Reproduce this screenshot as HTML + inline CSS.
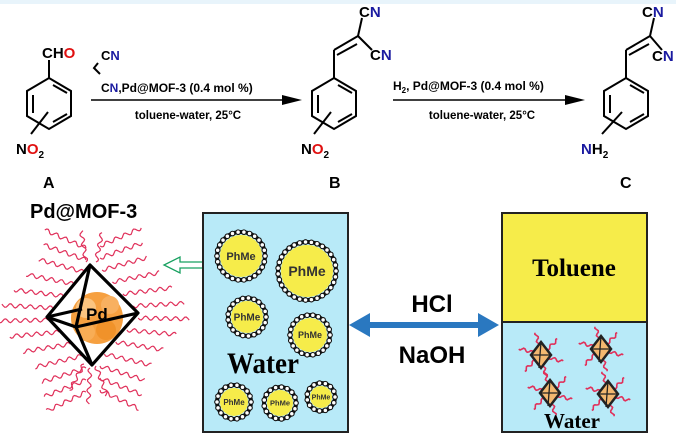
<!DOCTYPE html>
<html><head><meta charset="utf-8"><style>
body{margin:0;background:#fff;}
svg{display:block;font-family:"Liberation Sans",Arial,sans-serif;}
.b{stroke:#000;stroke-width:2;fill:none}
</style></head><body>
<svg id="s" width="676" height="435" viewBox="0 0 676 435" xmlns="http://www.w3.org/2000/svg">
<rect x="0" y="0" width="676" height="4" fill="#e8f4fb"/>
<!-- A -->
<g class="b">
<polygon points="49,78 71,91 71,116 49,129 27,116 27,91"/>
<line x1="33" y1="95" x2="33" y2="113"/><line x1="53" y1="85" x2="67" y2="93"/><line x1="53" y1="122" x2="67" y2="114"/>
<line x1="49" y1="78" x2="49" y2="60"/>
<line x1="31" y1="134" x2="48" y2="112"/>
</g>
<text x="42" y="58" font-size="15" font-weight="bold">CH<tspan fill="#e01010">O</tspan></text>
<text x="16" y="154" font-size="15" font-weight="bold">N<tspan fill="#e01010">O</tspan><tspan font-size="10" dy="4">2</tspan></text>
<text x="43" y="188" font-size="16" font-weight="bold">A</text>
<!-- arrow 1 -->
<path class="b" d="M98,63 L94,68 L100,74"/>
<text x="101" y="60" font-size="13" font-weight="bold">C<tspan fill="#1a1aa0">N</tspan></text>
<text x="101" y="92" font-size="12" font-weight="bold">C<tspan fill="#1a1aa0">N</tspan>,Pd@MOF-3 (0.4 mol %)</text>
<line x1="91" y1="100" x2="285" y2="100" stroke="#000" stroke-width="1.5"/>
<polygon points="282,95 302,100 282,105" fill="#000"/>
<text x="188" y="119" font-size="11.5" font-weight="bold" text-anchor="middle">toluene-water, 25°C</text>
<!-- B -->
<g class="b">
<polygon points="334,78 356,91 356,116 334,129 312,116 312,91"/>
<line x1="318" y1="95" x2="318" y2="113"/><line x1="338" y1="85" x2="352" y2="93"/><line x1="338" y1="122" x2="352" y2="114"/>
<line x1="334" y1="78" x2="334" y2="50"/>
<line x1="334" y1="50" x2="358" y2="36"/><line x1="337" y1="55" x2="357" y2="44"/>
<line x1="358" y1="36" x2="362" y2="18"/><line x1="358" y1="36" x2="372" y2="50"/>
<line x1="314" y1="134" x2="331" y2="112"/>
</g>
<text x="359" y="17" font-size="15" font-weight="bold">C<tspan fill="#1a1aa0">N</tspan></text>
<text x="370" y="60" font-size="15" font-weight="bold">C<tspan fill="#1a1aa0">N</tspan></text>
<text x="301" y="154" font-size="15" font-weight="bold">N<tspan fill="#e01010">O</tspan><tspan font-size="10" dy="4">2</tspan></text>
<text x="329" y="188" font-size="16" font-weight="bold">B</text>
<!-- arrow 2 -->
<text x="393" y="90" font-size="12" font-weight="bold">H<tspan font-size="8" dy="3">2</tspan><tspan dy="-3">, Pd@MOF-3 (0.4 mol %)</tspan></text>
<line x1="393" y1="100" x2="568" y2="100" stroke="#000" stroke-width="1.5"/>
<polygon points="565,95 585,100 565,105" fill="#000"/>
<text x="482" y="119" font-size="11.5" font-weight="bold" text-anchor="middle">toluene-water, 25°C</text>
<!-- C -->
<g class="b">
<polygon points="626,78 648,91 648,116 626,129 604,116 604,91"/>
<line x1="610" y1="95" x2="610" y2="113"/><line x1="630" y1="85" x2="644" y2="93"/><line x1="630" y1="122" x2="644" y2="114"/>
<line x1="626" y1="78" x2="626" y2="50"/>
<line x1="626" y1="50" x2="650" y2="36"/><line x1="629" y1="55" x2="649" y2="44"/>
<line x1="650" y1="36" x2="654" y2="18"/><line x1="650" y1="36" x2="662" y2="50"/>
<line x1="602" y1="134" x2="622" y2="112"/>
</g>
<text x="642" y="17" font-size="15" font-weight="bold">C<tspan fill="#1a1aa0">N</tspan></text>
<text x="652" y="61" font-size="15" font-weight="bold">C<tspan fill="#1a1aa0">N</tspan></text>
<text x="581" y="154" font-size="15" font-weight="bold"><tspan fill="#1a1aa0">N</tspan>H<tspan font-size="10" dy="4">2</tspan></text>
<text x="620" y="188" font-size="16" font-weight="bold">C</text>
<!-- Pd@MOF-3 -->
<text x="30" y="218" font-size="20" font-weight="bold">Pd@MOF-3</text>
<g id="waves" stroke="#e0305a" stroke-width="1.2" fill="none"></g>
<circle cx="97" cy="318" r="26" fill="#f6a040"/>
<circle cx="86" cy="308" r="10" fill="#fbc480"/><circle cx="106" cy="330" r="10" fill="#f0922a"/><circle cx="86" cy="332" r="9" fill="#f8ad55"/><circle cx="110" cy="305" r="9" fill="#f8b060"/>
<g style="stroke:#000;stroke-width:3.2;fill:none;stroke-linejoin:round">
<polygon points="90,265 47,317 92,365 138,313"/>
<line x1="90" y1="265" x2="76" y2="327"/><line x1="47" y1="317" x2="76" y2="327"/><line x1="76" y1="327" x2="138" y2="313"/><line x1="76" y1="327" x2="92" y2="365"/>
<line x1="47" y1="317" x2="82" y2="309"/>
</g>
<text x="86" y="320" font-size="17" font-weight="bold">Pd</text>
<!-- green arrow -->
<path d="M212,262 L180,262 L180,257 L164,265 L180,273 L180,268 L212,268" fill="#fff" stroke="#18a060" stroke-width="1.3"/>
<!-- middle box -->
<rect x="203" y="213" width="145" height="219" fill="#b8eaf8" stroke="#222" stroke-width="2"/>
<g id="bub"></g>
<text x="227" y="373" font-family="Liberation Serif,serif" font-size="30" font-weight="bold" textLength="72" lengthAdjust="spacingAndGlyphs">Water</text>
<!-- double arrow -->
<line x1="360" y1="325" x2="488" y2="325" stroke="#2a78c0" stroke-width="6"/>
<polygon points="349,325 370,313 370,337" fill="#2a78c0"/>
<polygon points="499,325 478,313 478,337" fill="#2a78c0"/>
<text x="432" y="312" font-size="24" font-weight="bold" text-anchor="middle">HCl</text>
<text x="432" y="363" font-size="24" font-weight="bold" text-anchor="middle">NaOH</text>
<!-- right box -->
<rect x="502" y="213" width="145" height="109" fill="#f6ec4a" stroke="#222" stroke-width="2"/>
<rect x="502" y="322" width="145" height="110" fill="#b8eaf8" stroke="#222" stroke-width="2"/>
<text x="574" y="276" font-family="Liberation Serif,serif" font-size="25" font-weight="bold" text-anchor="middle">Toluene</text>
<g id="mini"></g>
<text x="572" y="428" font-family="Liberation Serif,serif" font-size="21" font-weight="bold" text-anchor="middle">Water</text>
</svg>
<script>
var NS="http://www.w3.org/2000/svg";
function el(p,t,a){var e=document.createElementNS(NS,t);for(var k in a)e.setAttribute(k,a[k]);p.appendChild(e);return e;}
function wave(g,x,y,ang,len,amp,w){var ux=Math.cos(ang),uy=Math.sin(ang),d="";for(var t=0;t<=len;t+=1.5){var o=amp*Math.sin(t/w*2*Math.PI);var px=x+ux*t-uy*o,py=y+uy*t+ux*o;d+=(t?"L":"M")+px.toFixed(1)+","+py.toFixed(1);}el(g,"path",{d:d});}
var wg=document.getElementById("waves");
for(var y=248;y<=392;y+=12){
  var w=y<317?(y-265)/52*45:(365-y)/48*45; if(w<4)w=4;
  var tilt=(y-317)/75*0.45;
  var len=52-Math.abs(y-317)*0.1;
  wave(wg,92-w-2,y,Math.PI-tilt,len,2,10);
  wave(wg,94+w+2,y-2,tilt,len,2,10);
}
wave(wg,86,262,-Math.PI/2-0.15,32,2,10);
wave(wg,96,262,-Math.PI/2+0.2,30,2,10);
wave(wg,90,368,Math.PI/2+0.05,36,2,10);
wave(wg,96,366,Math.PI/2-0.35,32,2,10);
wave(wg,84,364,Math.PI/2+0.5,30,2,10);
var bg=document.getElementById("bub");
[[241,256,27,11],[307,271,32,14],[247,317,22,10],[310,335,23,9],[234,402,20,8],[280,403,19,7.5],[321,397,17,7]].forEach(function(b){
var R=b[2]-3;
el(bg,"circle",{cx:b[0],cy:b[1],r:R,fill:"none",stroke:"#111","stroke-width":4});
var n=Math.round(2*Math.PI*R/5.8);
for(var k=0;k<n;k++){var a=k/n*2*Math.PI;el(bg,"circle",{cx:b[0]+Math.cos(a)*R,cy:b[1]+Math.sin(a)*R,r:2.3,fill:"#fff",stroke:"#111","stroke-width":1.1});}
el(bg,"circle",{cx:b[0],cy:b[1],r:R-3,fill:"#f6ec4a"});
var t=el(bg,"text",{x:b[0],y:b[1]+b[3]*0.35,"font-size":b[3],"font-weight":"bold","text-anchor":"middle",fill:"#333"});t.textContent="PhMe";});
var mg=document.getElementById("mini");
[[541,355],[601,349],[550,393],[608,394]].forEach(function(c){
var g=el(mg,"g",{stroke:"#e0305a","stroke-width":1.6,fill:"none"});
for(var k=0;k<6;k++){var a=k/6*2*Math.PI+0.3;wave(g,c[0]+Math.cos(a)*8,c[1]+Math.sin(a)*8,a,15,1.5,8);}
el(mg,"polygon",{points:(c[0])+","+(c[1]-13)+" "+(c[0]+10)+","+c[1]+" "+c[0]+","+(c[1]+13)+" "+(c[0]-10)+","+c[1],fill:"#f3b870",stroke:"#222","stroke-width":2.5});
el(mg,"line",{x1:c[0]-10,y1:c[1],x2:c[0]+10,y2:c[1],stroke:"#222","stroke-width":1.3});
el(mg,"line",{x1:c[0],y1:c[1]-13,x2:c[0]-2,y2:c[1]+13,stroke:"#222","stroke-width":1.3});});
</script>
</body></html>
